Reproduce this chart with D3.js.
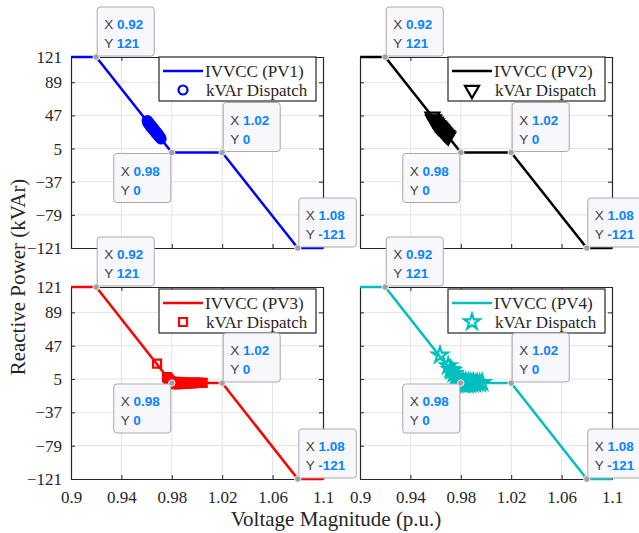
<!DOCTYPE html>
<html>
<head>
<meta charset="utf-8">
<script src="https://cdn.jsdelivr.net/npm/d3@7"></script>
<style>
  body { margin: 0; background: #fff; }
  svg { display: block; }
</style>
</head>
<body>
<svg id="chart"></svg>
<script>
// IVVCC curve (same for all PVs)
var curveV = [0.9, 0.92, 0.98, 1.02, 1.08, 1.1];
var curveQ = [121, 121, 0, 0, -121, -121];

var xTicks = [0.9, 0.94, 0.98, 1.02, 1.06, 1.1];
var yTicks = [-121, -79, -37, 5, 47, 89, 121];

var pvNames = ["PV1", "PV2", "PV3", "PV4"];
var pvColors = ["#0000ff", "#000000", "#ff0000", "#00bfbf"];

// kVAr dispatch points
var pv1V = [0.9605, 0.9609, 0.9613, 0.9617, 0.9620, 0.9624, 0.9628, 0.9631, 0.9635, 0.9639, 0.9642, 0.9646, 0.9650, 0.9653,
            0.9657, 0.9661, 0.9665, 0.9669, 0.9673, 0.9677, 0.9681, 0.9686, 0.9690, 0.9695, 0.9700, 0.9705, 0.9710, 0.9715];
var pv1Q = [40.5, 37.6, 38.9, 36.0, 37.4, 34.6, 35.9, 33.0, 34.5, 31.7, 33.1, 30.2, 31.6, 28.7,
            30.0, 27.1, 28.5, 25.6, 27.0, 24.0, 25.3, 22.3, 23.7, 20.6, 21.4, 18.6, 19.0, 17.1];

var pv2V = [0.9575, 0.958, 0.9588, 0.9594, 0.96, 0.9605, 0.961, 0.9616, 0.9622, 0.9628, 0.9634, 0.964, 0.9646, 0.9652,
            0.9658, 0.9664, 0.967, 0.9677, 0.9685, 0.9693, 0.97];
var pv2Q = [45.4, 42.0, 41.5, 38.5, 39.0, 36.0, 37.0, 34.0, 34.5, 32.0, 32.8, 30.5, 30.0, 28.5,
            27.5, 26.0, 25.0, 24.0, 22.5, 21.6, 20.2];

var pv3V = [0.9683, 0.9762, 0.9770, 0.9778, 0.9785, 0.9792, 0.9800, 0.9808, 0.9816, 0.9824, 0.9832, 0.9840, 0.9848, 0.9856,
            0.9864, 0.9872, 0.9880, 0.9890, 0.9900, 0.9912, 0.9925, 0.9940, 0.9955, 0.9970, 0.9985, 1.0000, 1.0015, 1.0030, 1.0045];
var pv3Q = [24.4, 7.3, 5.8, 4.2, 2.8, 1.8, 1.0, -1.2, 1.6, -1.5, 1.2, -1.6, 1.3, -1.4,
            1.0, -1.2, 0.8, -1.0, 0.9, -0.8, 0.6, -0.6, 0.5, -0.4, 0.4, 0.2, 0.3, 0.2, 0.1];

var pv4V = [0.9635, 0.9700, 0.9718, 0.9730, 0.9745, 0.9760, 0.9770, 0.9780, 0.9790, 0.9800, 0.9810, 0.9820, 0.9830, 0.9840,
            0.9850, 0.9860, 0.9870, 0.9880, 0.9890, 0.9900, 0.9915, 0.9930, 0.9950, 0.9970];
var pv4Q = [35.0, 21.5, 17.0, 15.5, 12.0, 8.5, 6.0, 4.5, 2.0, 1.5, -1.5, 2.0, -2.0, 1.5,
            -1.8, 1.0, -1.5, 0.5, -1.0, 0.5, -0.8, 0.3, 0.0, 0.5];

// data tips
var tipV = [0.92, 0.98, 1.02, 1.08];
var tipQ = [121, 0, 0, -121];
var tipDir = ["ur", "dl", "ur", "ur"];

var dispV = [pv1V, pv2V, pv3V, pv4V];
var dispQ = [pv1Q, pv2Q, pv3Q, pv4Q];

var width = 639, height = 533;
var svg = d3.select("#chart").attr("width", width).attr("height", height);

var serif = "'Times New Roman', 'Liberation Serif', serif";
var sans = "Helvetica, Arial, 'Liberation Sans', sans-serif";

var panels = [
  {x0: 71, y0: 57, w: 252, h: 191},
  {x0: 360, y0: 57, w: 252, h: 191},
  {x0: 71, y0: 287, w: 252, h: 192},
  {x0: 360, y0: 287, w: 252, h: 192}
];

var symbols = [
  d3.symbol().type(d3.symbolCircle).size(64),
  d3.symbol().type(d3.symbolTriangle).size(85),
  d3.symbol().type(d3.symbolSquare).size(64),
  d3.symbol().type(d3.symbolStar).size(75)
];
var rot = [0, 180, 0, 0];

var tipLayer = [];

panels.forEach(function(p, i) {
  var x = d3.scaleLinear().domain([0.9, 1.1]).range([p.x0, p.x0 + p.w]);
  var y = d3.scaleLinear().domain([-121, 121]).range([p.y0 + p.h, p.y0]);
  var col = pvColors[i];
  var g = svg.append("g");

  g.append("clipPath").attr("id", "clip" + i)
    .append("rect").attr("x", p.x0).attr("y", p.y0 - 2).attr("width", p.w).attr("height", p.h + 4);

  // grid
  g.selectAll(".gx").data(xTicks.slice(1, -1)).enter().append("line")
    .attr("x1", function(d) { return x(d); }).attr("x2", function(d) { return x(d); })
    .attr("y1", p.y0).attr("y2", p.y0 + p.h)
    .attr("stroke", "#e3e3e3").attr("stroke-width", 1);
  g.selectAll(".gy").data(yTicks.slice(1, -1)).enter().append("line")
    .attr("y1", function(d) { return y(d); }).attr("y2", function(d) { return y(d); })
    .attr("x1", p.x0).attr("x2", p.x0 + p.w)
    .attr("stroke", "#e3e3e3").attr("stroke-width", 1);

  // axes (inward ticks on all sides)
  var axB = d3.axisBottom(x).tickValues(xTicks).tickSizeInner(-4).tickSizeOuter(0)
    .tickFormat(i >= 2 ? d3.format("") : function() { return ""; });
  var axT = d3.axisTop(x).tickValues(xTicks).tickSizeInner(-4).tickSizeOuter(0).tickFormat("");
  var axL = d3.axisLeft(y).tickValues(yTicks).tickSizeInner(-4).tickSizeOuter(0)
    .tickFormat(i % 2 === 0 ? d3.format("") : function() { return ""; });
  var axR = d3.axisRight(y).tickValues(yTicks).tickSizeInner(-4).tickSizeOuter(0).tickFormat("");

  var gb = g.append("g").attr("transform", "translate(0," + (p.y0 + p.h) + ")").call(axB);
  var gt = g.append("g").attr("transform", "translate(0," + p.y0 + ")").call(axT);
  var gl = g.append("g").attr("transform", "translate(" + p.x0 + ",0)").call(axL);
  var gr = g.append("g").attr("transform", "translate(" + (p.x0 + p.w) + ",0)").call(axR);
  [gb, gt, gl, gr].forEach(function(a) {
    a.select(".domain").attr("stroke", "#262626").attr("stroke-width", 1.2);
    a.selectAll(".tick line").attr("stroke", "#262626");
    a.selectAll("text").attr("font-family", serif).attr("font-size", 17).attr("fill", "#262626");
  });
  gb.selectAll("text").attr("y", 12);
  gl.selectAll("text").attr("x", -9);

  // IVVCC curve
  var line = d3.line().x(function(d) { return x(d[0]); }).y(function(d) { return y(d[1]); });
  g.append("path")
    .datum(d3.zip(curveV, curveQ))
    .attr("clip-path", "url(#clip" + i + ")")
    .attr("d", line).attr("fill", "none")
    .attr("stroke", col).attr("stroke-width", 2.5);

  // dispatch markers
  g.selectAll(".m").data(d3.zip(dispV[i], dispQ[i])).enter().append("path")
    .attr("d", symbols[i])
    .attr("transform", function(d) { return "translate(" + x(d[0]) + "," + y(d[1]) + ") rotate(" + rot[i] + ")"; })
    .attr("fill", "none").attr("stroke", col).attr("stroke-width", 2.2);

  // legend
  var lg = g.append("g").attr("transform", "translate(" + (p.x0 + 88) + "," + (p.y0 + (i >= 2 ? 2 : 0)) + ")");
  lg.append("rect").attr("x", 0).attr("y", 0).attr("width", 157).attr("height", 44)
    .attr("fill", "#fff").attr("stroke", "#262626").attr("stroke-width", 1.2);
  lg.append("line").attr("x1", 4).attr("x2", 44).attr("y1", 14).attr("y2", 14)
    .attr("stroke", col).attr("stroke-width", 2.5);
  lg.append("text").attr("x", 46).attr("y", 20).text("IVVCC (" + pvNames[i] + ")")
    .attr("font-family", serif).attr("font-size", 17).attr("fill", "#262626");
  lg.append("path").attr("d", symbols[i])
    .attr("transform", "translate(24,33) rotate(" + rot[i] + ")")
    .attr("fill", "none").attr("stroke", col).attr("stroke-width", 2.2);
  lg.append("text").attr("x", 47).attr("y", 39).text("kVAr Dispatch")
    .attr("font-family", serif).attr("font-size", 17).attr("fill", "#262626");

  tipV.forEach(function(v, k) {
    tipLayer.push({px: x(v), py: y(tipQ[k]), v: v, q: tipQ[k], dir: tipDir[k]});
  });
});

// data tips on top of everything
tipLayer.forEach(function(t) {
  var g = svg.append("g");
  var box = g.append("rect").attr("fill", "#f8f8fc").attr("stroke", "#a9a9a9")
    .attr("stroke-width", 1).attr("rx", 3);
  var t1 = g.append("text").attr("font-family", sans).attr("font-size", 13.5).attr("fill", "#404040");
  t1.append("tspan").text("X ");
  t1.append("tspan").text(d3.format(".2f")(t.v)).attr("font-weight", "bold").attr("fill", "#0a84ff");
  var t2 = g.append("text").attr("font-family", sans).attr("font-size", 13.5).attr("fill", "#404040");
  t2.append("tspan").text("Y ");
  t2.append("tspan").text(String(t.q)).attr("font-weight", "bold").attr("fill", "#0a84ff");
  var tw = Math.max(t1.node().getComputedTextLength(), t2.node().getComputedTextLength());
  var bw = tw + 18, bh = 49;
  var bx = t.dir === "ur" ? t.px + 1 : t.px - 1 - bw;
  var by = t.dir === "ur" ? t.py - 1 - bh : t.py + 1;
  box.attr("x", bx).attr("y", by).attr("width", bw).attr("height", bh);
  t1.attr("x", bx + 7).attr("y", by + 22);
  t2.attr("x", bx + 7).attr("y", by + 41);
  g.append("circle").attr("cx", t.px).attr("cy", t.py).attr("r", 3.2)
    .attr("fill", "#a0a0a0").attr("stroke", "#eeeeee").attr("stroke-width", 1);
});

// axis titles
svg.append("text").attr("x", 336).attr("y", 526).attr("text-anchor", "middle")
  .attr("font-family", serif).attr("font-size", 21).attr("fill", "#262626")
  .text("Voltage Magnitude (p.u.)");
svg.append("text").attr("transform", "translate(25,277) rotate(-90)").attr("text-anchor", "middle")
  .attr("font-family", serif).attr("font-size", 21).attr("fill", "#262626")
  .text("Reactive Power (kVAr)");
</script>
</body>
</html>
